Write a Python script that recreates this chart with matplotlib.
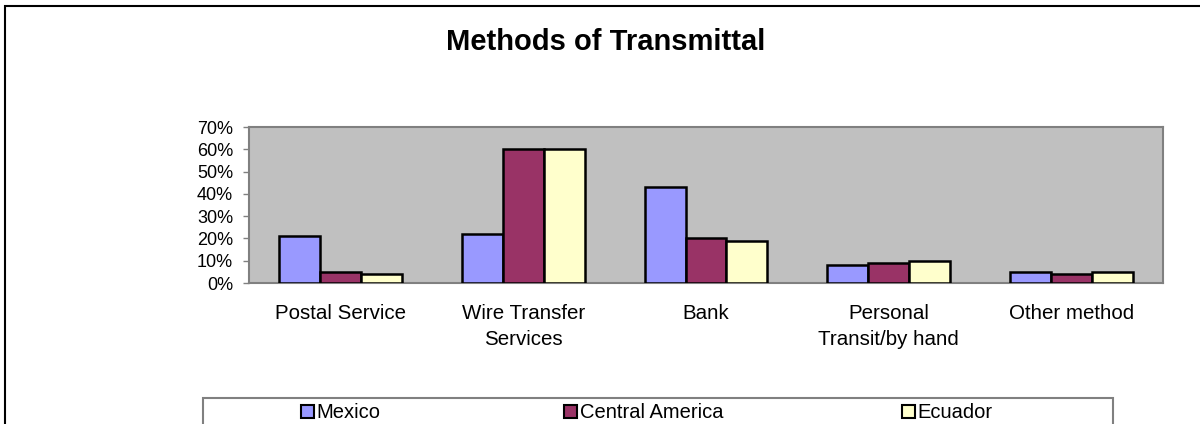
import numpy as np
import matplotlib.pyplot as plt
from matplotlib.patches import Rectangle

plt.rcParams['font.family'] = ['Liberation Sans', 'DejaVu Sans']

# --- data ---
categories = ['Postal Service', 'Wire Transfer\nServices', 'Bank',
              'Personal\nTransit/by hand', 'Other method']
series = ['Mexico', 'Central America', 'Ecuador']
mexico = [21, 22, 43, 8, 5]
central_america = [5, 60, 20, 9, 4]
ecuador = [4, 60, 19, 10, 5]
colors = ['#9999FF', '#993366', '#FFFFCC']
yticks = [0, 10, 20, 30, 40, 50, 60, 70]

W, H = 1200, 424
fig = plt.figure(figsize=(W / 100, H / 100), dpi=100)

# outer chart frame (runs off the right and bottom edge)
fig.patches.append(Rectangle((5 / W, -0.2), 1.2, 1.2 - 6 / H,
                             transform=fig.transFigure, fill=False,
                             edgecolor='black', linewidth=1.5))

ax = fig.add_axes([249 / W, 1 - 283 / H, (1163 - 249) / W, (283 - 127) / H])
ax.set_facecolor('#C0C0C0')

x = np.arange(len(categories))
bw = 0.224
bars = []
for i, (vals, c, name) in enumerate(zip([mexico, central_america, ecuador], colors, series)):
    b = ax.bar(x + (i - 1) * bw, vals, width=bw, color=c, edgecolor='black',
               linewidth=1.8, label=name, zorder=3)
    bars.append(b)

ax.set_xlim(-0.5, len(categories) - 0.5)
ax.set_ylim(0, 70)
ax.set_yticks(yticks)
ax.set_yticklabels([f'{v}%' for v in yticks], fontsize=13)
ax.set_xticks(x)
ax.set_xticklabels(categories, fontsize=14.8, linespacing=1.45)
ax.tick_params(axis='x', length=0, pad=15)
ax.tick_params(axis='y', length=4.5, width=1, pad=7, color='#808080')

for s in ax.spines.values():
    s.set_color('#808080')
    s.set_linewidth(1.5)

fig.text(606 / W, 1 - 42 / H, 'Methods of Transmittal', ha='center', va='center',
         fontsize=21, fontweight='bold')

# legend box (bottom edge runs off the figure), three equal columns
lx0, lx1, ly = 203, 1113, 398
fig.patches.append(Rectangle((lx0 / W, -0.1), (lx1 - lx0) / W, 0.1 + 1 - ly / H,
                             transform=fig.transFigure, fill=False,
                             edgecolor='#808080', linewidth=1.5))
colw = (lx1 - lx0) / 3
for i, b in enumerate(bars):
    cx = lx0 + colw * (i + 0.5) - 14
    leg = fig.legend([b], [series[i]], loc='center',
                     bbox_to_anchor=(cx / W, 1 - 413 / H),
                     fontsize=14.5, frameon=False,
                     handlelength=0.65, handleheight=0.65, handletextpad=0.15,
                     borderaxespad=0, borderpad=0)
    for h in leg.legend_handles:
        h.set_linewidth(1.5)

fig.savefig('out.png', dpi=100)
